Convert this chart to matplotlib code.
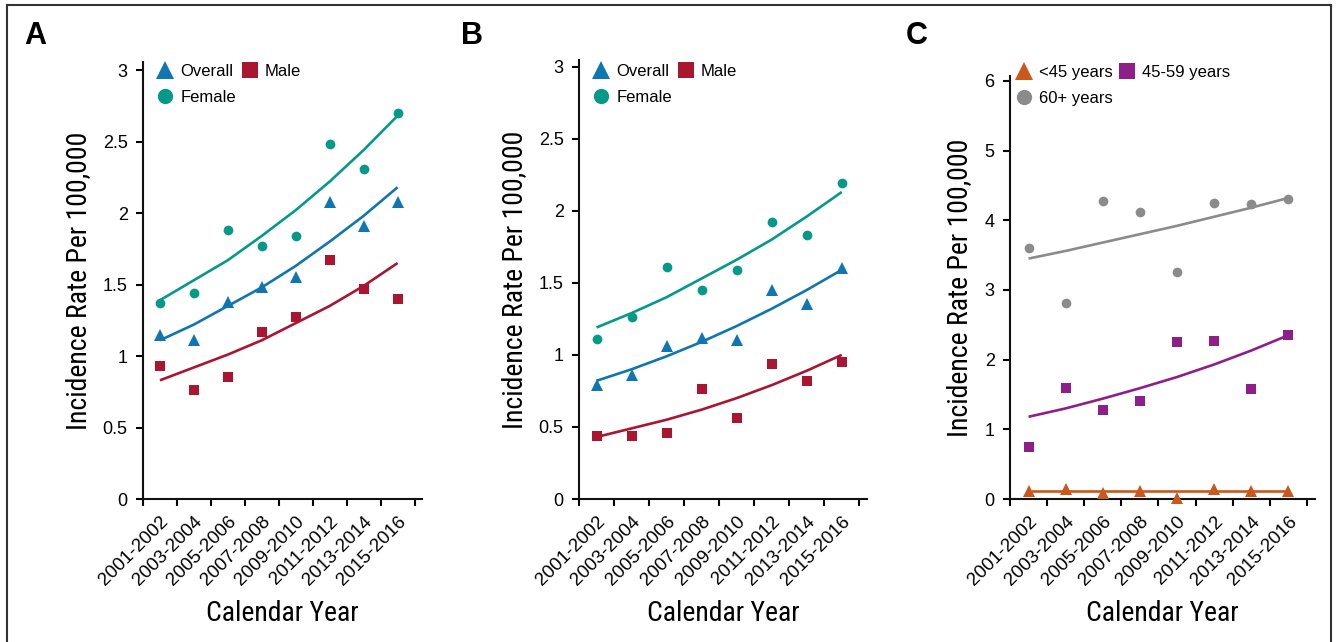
import matplotlib
matplotlib.use("Agg")
import matplotlib.pyplot as plt
from matplotlib.lines import Line2D
from matplotlib.transforms import ScaledTranslation
import numpy as np

years = ['2001-2002', '2003-2004', '2005-2006', '2007-2008',
         '2009-2010', '2011-2012', '2013-2014', '2015-2016']

# Panel A
a_overall = [1.15, 1.11, 1.38, 1.48, 1.55, 2.08, 1.91, 2.08]
a_male = [0.93, 0.76, 0.85, 1.17, 1.27, 1.67, 1.47, 1.40]
a_female = [1.37, 1.44, 1.88, 1.77, 1.84, 2.48, 2.31, 2.70]
a_overall_fit = [1.11, 1.22, 1.35, 1.48, 1.63, 1.80, 1.98, 2.18]
a_male_fit = [0.83, 0.92, 1.01, 1.11, 1.23, 1.35, 1.49, 1.65]
a_female_fit = [1.39, 1.53, 1.67, 1.84, 2.02, 2.22, 2.44, 2.68]

# Panel B
b_overall = [0.79, 0.86, 1.06, 1.12, 1.10, 1.45, 1.35, 1.60]
b_male = [0.44, 0.44, 0.46, 0.76, 0.56, 0.94, 0.82, 0.95]
b_female = [1.11, 1.26, 1.61, 1.45, 1.59, 1.92, 1.83, 2.19]
b_overall_fit = [0.82, 0.90, 0.99, 1.09, 1.20, 1.32, 1.45, 1.59]
b_male_fit = [0.43, 0.49, 0.55, 0.62, 0.70, 0.79, 0.89, 1.00]
b_female_fit = [1.19, 1.29, 1.40, 1.53, 1.66, 1.80, 1.96, 2.13]

# Panel C
c_lt45 = [0.12, 0.15, 0.09, 0.12, 0.02, 0.15, 0.11, 0.12]
c_45_59 = [0.75, 1.59, 1.28, 1.41, 2.25, 2.27, 1.58, 2.36]
c_60p = [3.60, 2.81, 4.28, 4.12, 3.26, 4.25, 4.23, 4.31]
c_lt45_fit = [0.12, 0.12, 0.12, 0.12, 0.12, 0.12, 0.12, 0.12]
c_45_59_fit = [1.18, 1.30, 1.44, 1.59, 1.75, 1.93, 2.13, 2.35]
c_60p_fit = [3.45, 3.56, 3.68, 3.80, 3.92, 4.05, 4.18, 4.32]

BLUE = '#0f76b1'
RED = '#aa1530'
TEAL = '#05998a'
ORANGE = '#c9581d'
PURPLE = '#8f1f88'
GREY = '#8b8b8b'

plt.rcParams['font.family'] = ['Liberation Sans', 'DejaVu Sans']
LABEL_FONT = ['Roboto Condensed', 'Liberation Sans Narrow', 'Liberation Sans', 'DejaVu Sans']

W, H = 1337, 642
fig = plt.figure(figsize=(W / 100, H / 100), dpi=100)


def px_axes(left, right, top, bottom):
    return fig.add_axes([left / W, (H - bottom) / H, (right - left) / W, (bottom - top) / H])


def style(ax, ymax, yticks, yticklabels):
    ax.set_xlim(0, 8.22)
    ax.set_ylim(0, ymax)
    for s in ['top', 'right']:
        ax.spines[s].set_visible(False)
    for s in ['left', 'bottom']:
        ax.spines[s].set_linewidth(1.5)
        ax.spines[s].set_color('#111111')
    ax.set_xticks(np.arange(0, 9))
    ax.set_xticklabels([])
    ax.set_xticks(np.arange(len(years)) + 0.5, minor=True)
    ax.set_xticklabels(years, minor=True, rotation=45, ha='right',
                       rotation_mode='anchor', fontsize=13.5)
    off = ScaledTranslation(5 / 72, 0, fig.dpi_scale_trans)
    for lbl in ax.get_xticklabels(minor=True):
        lbl.set_transform(lbl.get_transform() + off)
    ax.tick_params(axis='x', which='minor', length=0, pad=10)
    ax.tick_params(axis='x', which='major', length=5, width=1.5, direction='out')
    ax.set_yticks(yticks)
    ax.set_yticklabels(yticklabels, fontsize=13)
    ax.tick_params(axis='y', length=5, width=1.5, direction='out', pad=6)
    ax.set_xlabel('Calendar Year', fontsize=20, family=LABEL_FONT, labelpad=8)
    ax.set_ylabel('Incidence Rate Per 100,000', fontsize=20, family=LABEL_FONT, labelpad=8)


def draw(ax, series, leg_left, leg_top):
    x = np.arange(len(years)) + 0.5
    handles = []
    for vals, fit, color, marker, ms, label in series:
        ax.plot(x, fit, color=color, lw=1.9, zorder=2, solid_capstyle='butt')
        ax.plot(x, vals, linestyle='none', marker=marker, ms=ms, color=color,
                markeredgewidth=0, zorder=3, clip_on=False)
        lms = 13 if marker == '^' else 11
        handles.append(Line2D([], [], linestyle='none', marker=marker,
                              ms=lms, color=color, markeredgewidth=0, label=label))
    order = [handles[0], handles[2], handles[1]]
    ax.legend(handles=order, ncol=2, loc='upper left',
              bbox_to_anchor=(leg_left / W, (H - leg_top) / H),
              bbox_transform=fig.transFigure,
              frameon=False, fontsize=12, handlelength=1.0, handletextpad=0.4,
              columnspacing=0.35, labelspacing=0.67, borderaxespad=0, borderpad=0)


axA = px_axes(143, 422, 62, 499)
style(axA, 3.056, [0, 0.5, 1, 1.5, 2, 2.5, 3], ['0', '0.5', '1', '1.5', '2', '2.5', '3'])
draw(axA, [
    (a_overall, a_overall_fit, BLUE, '^', 9, 'Overall'),
    (a_male, a_male_fit, RED, 's', 7.5, 'Male'),
    (a_female, a_female_fit, TEAL, 'o', 7, 'Female'),
], 157, 64)

axB = px_axes(579, 867, 60, 499)
style(axB, 3.046, [0, 0.5, 1, 1.5, 2, 2.5, 3], ['0', '0.5', '1', '1.5', '2', '2.5', '3'])
draw(axB, [
    (b_overall, b_overall_fit, BLUE, '^', 9, 'Overall'),
    (b_male, b_male_fit, RED, 's', 7.5, 'Male'),
    (b_female, b_female_fit, TEAL, 'o', 7, 'Female'),
], 593, 64)

axC = px_axes(1010, 1315, 76, 499)
style(axC, 6.07, [0, 1, 2, 3, 4, 5, 6], ['0', '1', '2', '3', '4', '5', '6'])
draw(axC, [
    (c_lt45, c_lt45_fit, ORANGE, '^', 9, '<45 years'),
    (c_45_59, c_45_59_fit, PURPLE, 's', 7.5, '45-59 years'),
    (c_60p, c_60p_fit, GREY, 'o', 7, '60+ years'),
], 1016, 65)

for lab, xp in [('A', 24), ('B', 461), ('C', 906)]:
    fig.text(xp / W, (H - 44) / H, lab, fontsize=22, fontweight='bold',
             ha='left', va='baseline')

# outer frame
frame_kw = dict(color='#333333', lw=1.5, transform=fig.transFigure)
fig.add_artist(Line2D([7 / W, 7 / W], [0, (H - 5) / H], **frame_kw))
fig.add_artist(Line2D([7 / W, 1331 / W], [(H - 5) / H, (H - 5) / H], **frame_kw))
fig.add_artist(Line2D([1331 / W, 1331 / W], [0, (H - 5) / H], **frame_kw))

fig.savefig('out.png', dpi=100)
